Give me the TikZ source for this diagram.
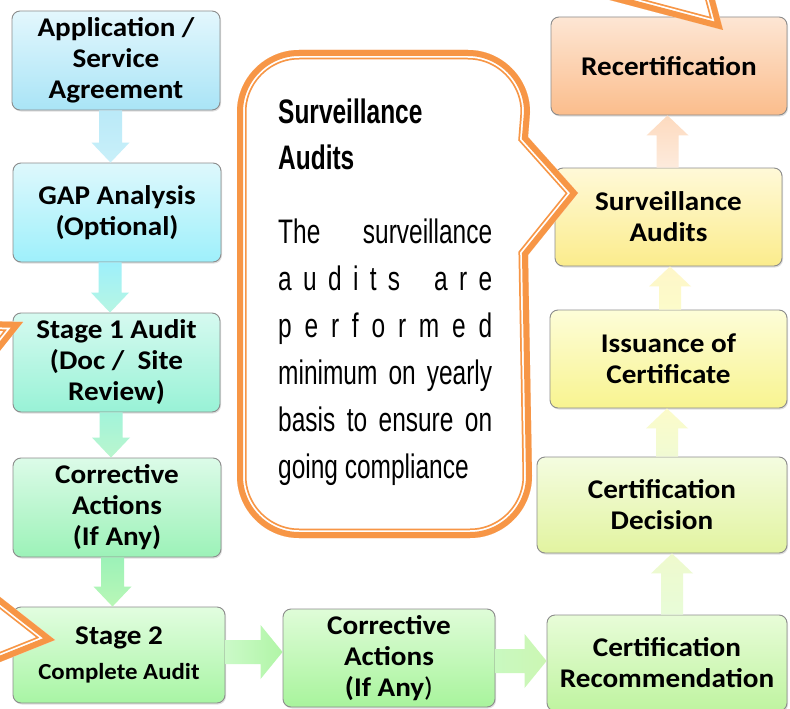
\documentclass[tikz,border=0pt]{standalone}
\usepackage{fontspec}
\setmainfont{Carlito}[FakeStretch=1.08]
\newfontfamily\agency[FakeStretch=0.72]{Liberation Sans}
\usetikzlibrary{calc,shadows}

\definecolor{co}{HTML}{F79646}
\definecolor{bord}{HTML}{8C8C8C}
\definecolor{c1t}{HTML}{E3F7FD}\definecolor{c1b}{HTML}{A9E4F6}
\definecolor{c2t}{HTML}{DEF8FC}\definecolor{c2b}{HTML}{9EF0FB}
\definecolor{c3t}{HTML}{D6FAF0}\definecolor{c3b}{HTML}{98F2D6}
\definecolor{c4t}{HTML}{DCFBE8}\definecolor{c4b}{HTML}{9CF2B8}
\definecolor{c5t}{HTML}{E2FDE0}\definecolor{c5b}{HTML}{A8F5A4}
\definecolor{c6t}{HTML}{DFFCD8}\definecolor{c6b}{HTML}{A8F49C}
\definecolor{c7t}{HTML}{E8FCD8}\definecolor{c7b}{HTML}{BFF4A0}
\definecolor{c8t}{HTML}{F4FCE0}\definecolor{c8b}{HTML}{E2F4A0}
\definecolor{c9t}{HTML}{FDFDD8}\definecolor{c9b}{HTML}{F8F490}
\definecolor{c10t}{HTML}{FFF9D8}\definecolor{c10b}{HTML}{FBEC8C}
\definecolor{c11t}{HTML}{FDE6D4}\definecolor{c11b}{HTML}{FBBD8C}

\newcommand\arrowdown[4]{\shade[#4] let \p1=($(#1.south)+(#3,0)$), \p2=(#2.north) in
  (\x1-11.5pt,\y1) -- (\x1+11.5pt,\y1) -- (\x1+11.5pt,\y2+20pt) -- (\x1+19pt,\y2+20pt)
  -- (\x1,\y2) -- (\x1-19pt,\y2+20pt) -- (\x1-11.5pt,\y2+20pt) -- cycle;}
\newcommand\arrowup[4]{\shade[#4] let \p1=($(#1.north)+(#3,0)$), \p2=(#2.south) in
  (\x1-11pt,\y1) -- (\x1+11pt,\y1) -- (\x1+11pt,\y2-20pt) -- (\x1+21pt,\y2-20pt)
  -- (\x1,\y2) -- (\x1-21pt,\y2-20pt) -- (\x1-11pt,\y2-20pt) -- cycle;}
\newcommand\arrowright[4]{\shade[#4] let \p1=($(#1.east)+(0,#3)$), \p2=(#2.west) in
  (\x1,\y1+12pt) -- (\x2-22pt,\y1+12pt) -- (\x2-22pt,\y1+27pt) -- (\x2,\y1)
  -- (\x2-22pt,\y1-27pt) -- (\x2-22pt,\y1-12pt) -- (\x1,\y1-12pt) -- cycle;}
\newcommand\compoundline[1]{%
  \fill[white] #1;
  \begin{scope}
    \clip #1;
    \draw[co, line width=19pt, line join=miter] #1;
    \draw[white, line width=15.5pt, line join=miter] #1;
    \draw[co, line width=12pt, line join=miter] #1;
  \end{scope}}

\def\calloutpath{(237,112) .. controls (237,78) and (265,50) .. (299,50) -- (468,50)
  .. controls (502,50) and (530,78) .. (530,112) -- (528,137) -- (578,193) -- (528,255)
  -- (532,476) .. controls (532,510) and (504,538) .. (470,538) -- (299,538)
  .. controls (265,538) and (237,510) .. (237,476) -- cycle}
\def\toppointer{(553,-15) -- (723,30) -- (711,-15) -- cycle}
\def\stageonepointer{(-60,320) -- (23,322) -- (-20,375.7) -- cycle}
\def\stagetwopointer{(-40,565.7) -- (55,640) -- (-40,678) -- cycle}

\begin{document}
\begin{tikzpicture}[x=1pt,y=-1pt,
  box/.style={draw=bord, line width=0.9pt, rounded corners=8pt, align=center,
    font=\bfseries\fontsize{27}{31}\selectfont, inner sep=0pt,
    drop shadow={opacity=0.25, shadow xshift=1pt, shadow yshift=-1.5pt}}]
\useasboundingbox (0,0) rectangle (790,709);
\clip (0,0) rectangle (790,709);
\fill[white] (0,0) rectangle (790,709);

% left column
\node[box, minimum width=208pt, minimum height=99pt, top color=c1t, bottom color=c1b] (app) at (116,60.5) {Application /\\Service\\Agreement};
\node[box, minimum width=208pt, minimum height=99pt, top color=c2t, bottom color=c2b] (gap) at (117,212.5) {GAP Analysis\\(Optional)};
\node[box, minimum width=207pt, minimum height=99pt, top color=c3t, bottom color=c3b] (s1) at (116.5,362.5) {Stage 1 Audit\\(Doc /\ \ Site\\Review)};
\node[box, minimum width=208pt, minimum height=99pt, top color=c4t, bottom color=c4b] (corr1) at (117,507.5) {Corrective\\Actions\\(If Any)};
\node[box, minimum width=212pt, minimum height=96pt, top color=c5t, bottom color=c5b] (s2) at (119,655) {Stage 2\\[4pt]{\fontsize{23}{27}\selectfont Complete Audit}};
% bottom middle
\node[box, minimum width=212pt, minimum height=98pt, top color=c6t, bottom color=c6b] (corr2) at (389,658) {Corrective\\Actions\\(If Any\mdseries)};
% right column
\node[box, minimum width=240pt, minimum height=96pt, top color=c7t, bottom color=c7b] (rec) at (667,663) {Certification\\Recommendation};
\node[box, minimum width=250pt, minimum height=96pt, top color=c8t, bottom color=c8b] (dec) at (662,505) {Certification\\Decision};
\node[box, minimum width=237pt, minimum height=98pt, top color=c9t, bottom color=c9b] (iss) at (668.5,359) {Issuance of\\Certificate};
\node[box, minimum width=227pt, minimum height=98pt, top color=c10t, bottom color=c10b] (sur) at (668.5,217) {Surveillance\\Audits};
\node[box, minimum width=236pt, minimum height=98pt, top color=c11t, bottom color=c11b] (recert) at (669,66) {Recertification};

% arrows
\arrowdown{app}{gap}{-5.5}{top color=c1b!80!white, bottom color=c2t!60!c1b}
\arrowdown{gap}{s1}{-7}{top color=c2b, bottom color=c3b!70!white}
\arrowdown{s1}{corr1}{-5.5}{top color=c3b!90!white, bottom color=c4b!70!white}
\arrowdown{corr1}{s2}{-4.5}{top color=c4b, bottom color=c5b!80!white}
\arrowright{s2}{corr2}{-3}{left color=c5t!60!c5b, right color=c6b!90!white}
\arrowright{corr2}{rec}{3}{left color=c6t!60!c6b, right color=c7b!80!white}
\arrowup{rec}{dec}{5}{bottom color=c7t, top color=c8t!70!c8b}
\arrowup{dec}{iss}{5}{bottom color=c8t!80!c8b, top color=c9t!80!c9b}
\arrowup{iss}{sur}{1.5}{bottom color=c9t!80!c9b, top color=c10t!80!c10b}
\arrowup{sur}{recert}{-1}{bottom color=c11t!80!white, top color=c11t!70!c11b}

% callouts
\compoundline{\calloutpath}
\compoundline{\toppointer}
\compoundline{\stageonepointer}
\compoundline{\stagetwopointer}

\node[anchor=base west, inner sep=0pt, font=\agency\bfseries\fontsize{34}{47}\selectfont] (ctitle) at (278,123)
  {\vtop{\baselineskip=47pt\hbox{Surveillance}\hbox{Audits}}};
\node[anchor=base west, inner sep=0pt, font=\agency\fontsize{34}{47}\selectfont] (cbody) at (278,243)
  {\vtop{\baselineskip=47pt
    \hbox to 214pt{The\hfil surveillance}
    \hbox to 214pt{a\hfil u\hfil d\hfil i\hfil t\hfil s\hskip 0pt plus 3fil a\hfil r\hfil e}
    \hbox to 214pt{p\hfil e\hfil r\hfil f\hfil o\hfil r\hfil m\hfil e\hfil d}
    \hbox to 214pt{minimum\hfil on\hfil yearly}
    \hbox to 214pt{basis\hfil to\hfil ensure\hfil on}
    \hbox{going compliance}}};
\end{tikzpicture}
\end{document}
